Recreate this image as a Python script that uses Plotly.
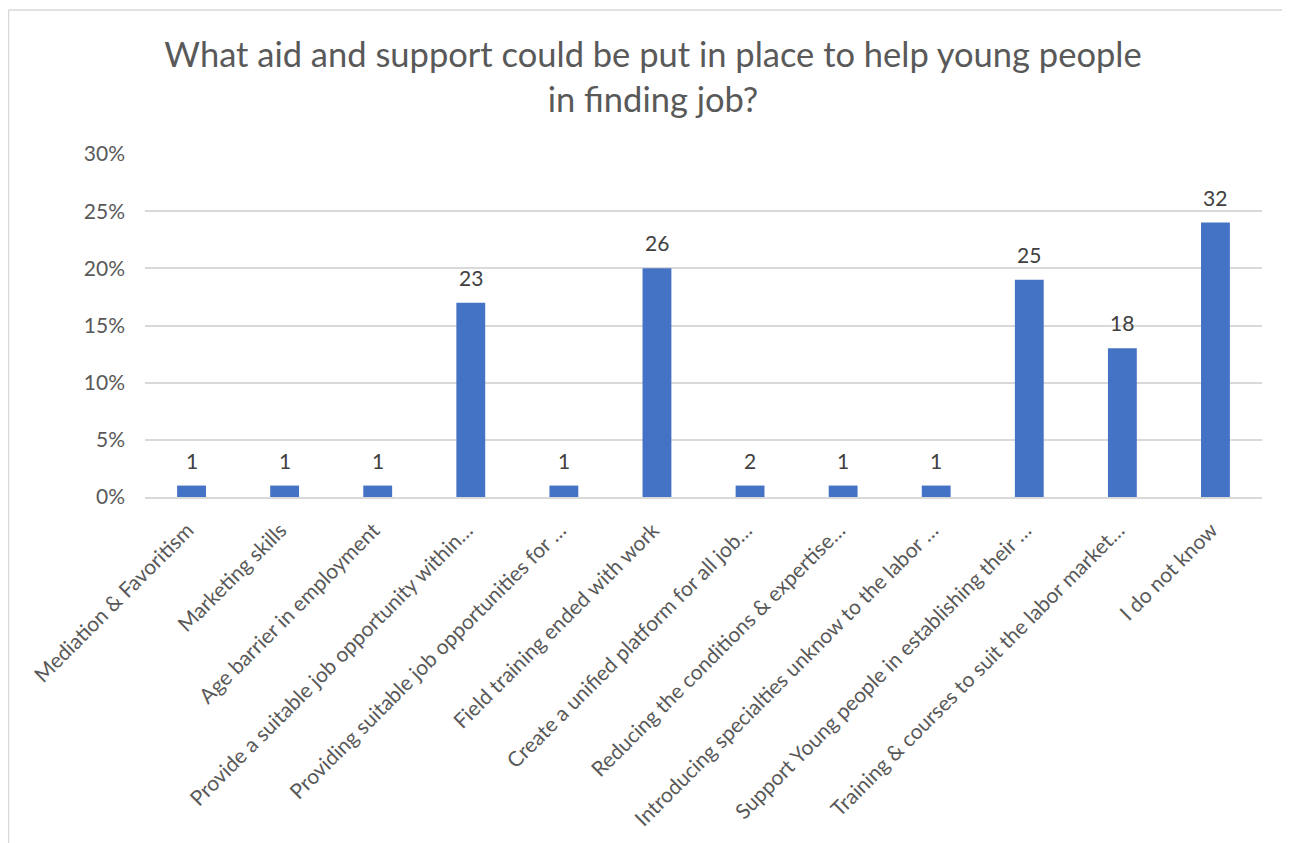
import plotly.graph_objects as go

categories = [
    "Mediation & Favoritism",
    "Marketing skills",
    "Age barrier in employment",
    "Provide a suitable job opportunity within…",
    "Providing suitable job opportunities for …",
    "Field training ended with work",
    "Create a unified platform for all job…",
    "Reducing the conditions & expertise…",
    "Introducing specialties unknow to the labor …",
    "Support Young people in establishing their …",
    "Training & courses to suit the labor market…",
    "I do not know",
]
percent_values = [0.01, 0.01, 0.01, 0.17, 0.01, 0.20, 0.01, 0.01, 0.01, 0.19, 0.13, 0.24]
count_labels = [1, 1, 1, 23, 1, 26, 2, 1, 1, 25, 18, 32]
y_ticks = [0, 0.05, 0.10, 0.15, 0.20, 0.25, 0.30]
y_tick_text = ["0%", "5%", "10%", "15%", "20%", "25%", "30%"]

FONT = "Lato, Carlito, Calibri, 'Open Sans', sans-serif"

fig = go.Figure()
fig.add_trace(go.Bar(
    x=categories,
    y=percent_values,
    marker=dict(color="#4472C4", line=dict(width=0)),
    width=0.31,
    cliponaxis=False,
))

for cat, val, cnt in zip(categories, percent_values, count_labels):
    fig.add_annotation(
        x=cat, y=val, xref="x", yref="y",
        text=str(cnt), showarrow=False,
        xanchor="center", yanchor="bottom", yshift=11,
        font=dict(family=FONT, size=21, color="#404040"),
    )

W, H = 1290, 843
ml, mr, mt, mb = 137, 36, 146, 354

fig.update_layout(
    width=W, height=H,
    margin=dict(l=ml, r=mr, t=mt, b=mb, pad=0),
    paper_bgcolor="white",
    plot_bgcolor="white",
    showlegend=False,
    title=dict(
        text="What aid and support could be put in place to help young people<br>in finding job?",
        x=0.5, xref="container", xanchor="center",
        y=0.930, yref="container", yanchor="top",
        font=dict(family=FONT, size=34.5, color="#595959"),
    ),
    xaxis=dict(
        tickangle=-45,
        tickfont=dict(family=FONT, size=21, color="#595959"),
        showgrid=False,
        showline=True, linecolor="#D9D9D9", linewidth=1.5,
        ticks="",
        ticklabelstandoff=11,
        ticklabelshift=-4,
        automargin=False,
    ),
    yaxis=dict(
        range=[0, 0.30],
        tickvals=y_ticks,
        ticktext=y_tick_text,
        tickfont=dict(family=FONT, size=21, color="#595959"),
        showgrid=True, gridcolor="#D9D9D9", gridwidth=1.5,
        zeroline=False,
        ticks="",
        ticklabelstandoff=19,
        automargin=False,
    ),
)

# outer chart border
pw = W - ml - mr
ph = H - mt - mb
fig.add_shape(
    type="rect", xref="paper", yref="paper",
    x0=(0.5 - ml) / pw, x1=(W + 20 - ml) / pw,
    y0=-(H + 20 - (H - mb)) / ph,
    y1=((H - mb) - 2) / ph,
    line=dict(color="#D9D9D9", width=1.5),
    fillcolor="rgba(0,0,0,0)",
    layer="below",
)

fig.write_html("out.html")
